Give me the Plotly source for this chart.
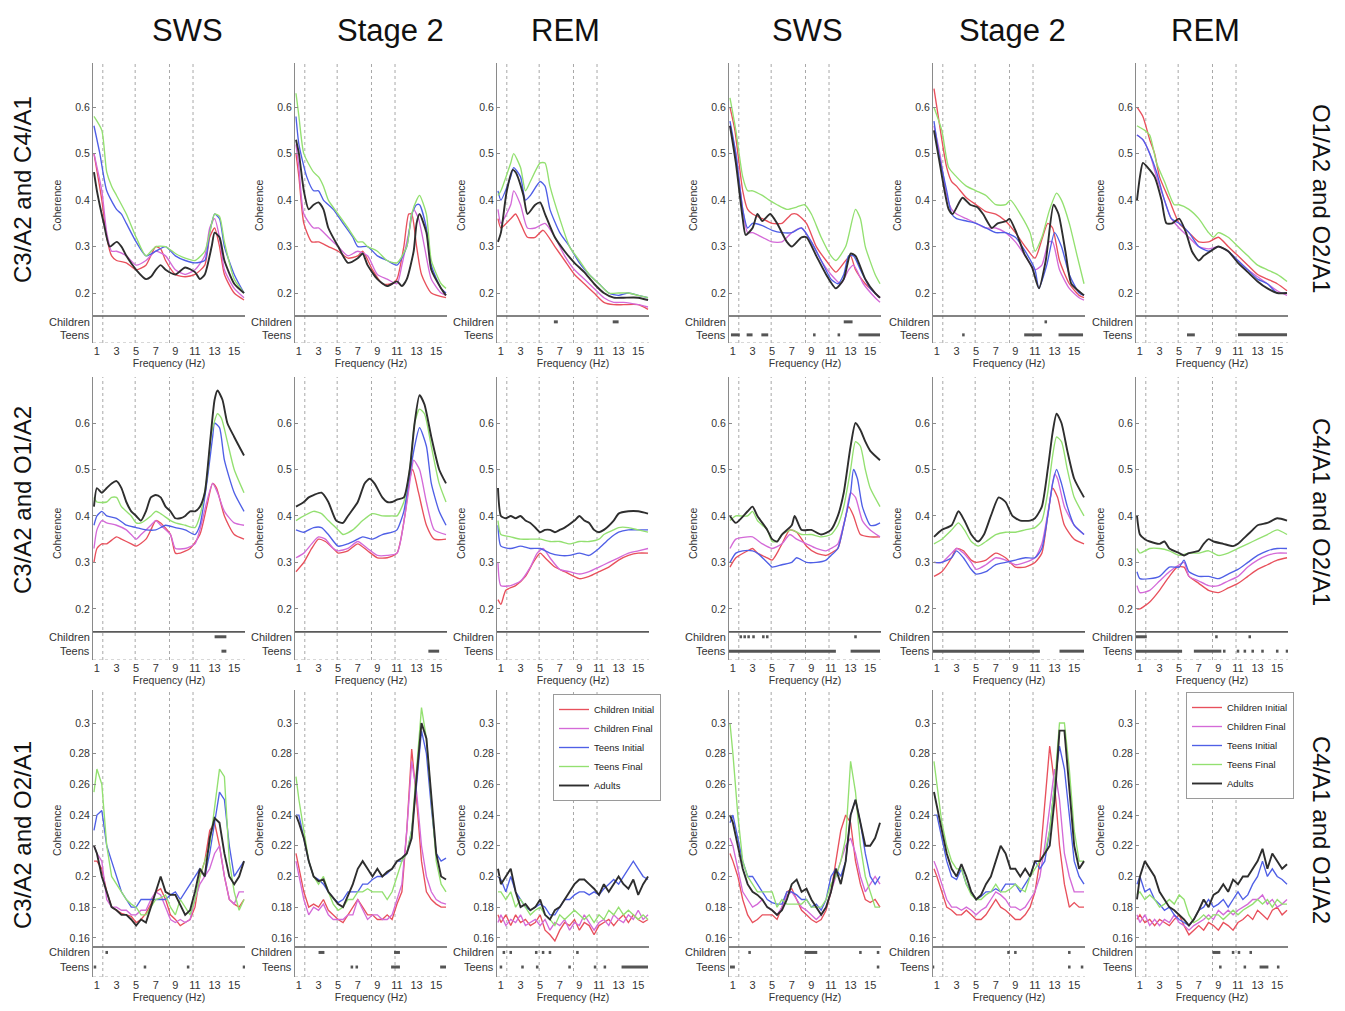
import plotly.graph_objects as go

W, H = 1345, 1011

GROUPS = ["Children Initial", "Children Final", "Teens Initial", "Teens Final", "Adults"]
KEYS = ["ci", "cf", "ti", "tf", "ad"]
COLORS = ["#e8505c", "#d46ad8", "#4f5fe6", "#93e070", "#2e2e2e"]
WIDTHS = [1.35, 1.35, 1.35, 1.35, 1.9]

STAGES = ["SWS", "Stage 2", "REM", "SWS", "Stage 2", "REM"]
ROW_LABELS_LEFT = ["C3/A2 and C4/A1", "C3/A2 and O1/A2", "C3/A2 and O2/A1"]
ROW_LABELS_RIGHT = ["O1/A2 and O2/A1", "C4/A1 and O2/A1", "C4/A1 and O1/A2"]

FREQ_TICKS = [1, 3, 5, 7, 9, 11, 13, 15]
BAND_LINES = [1.6, 4.9, 8.4, 10.8]
YTICKS_TOP = [0.2, 0.3, 0.4, 0.5, 0.6]
YTICKS_BOT = [0.16, 0.18, 0.2, 0.22, 0.24, 0.26, 0.28, 0.3]
FREQ3 = [0.7, 1.0, 1.5, 2.0, 2.5, 3.0, 3.5, 4.0, 4.5, 5.0, 5.5, 6.0, 6.5, 7.0, 7.5, 8.0,
         8.5, 9.0, 9.5, 10.0, 10.5, 11.0, 11.5, 12.0, 12.5, 13.0, 13.5, 14.0, 14.5, 15.0, 15.5, 16.0]

# ---------------- Row 1 : C3/A2-C4/A1 (left) and O1/A2-O2/A1 (right) ----------------
C3C4_SWS = dict(
    ci=[(0.7,.50),(1.5,.40),(2,.32),(2.5,.28),(3,.27),(4,.265),(5,.25),(6,.26),(7,.30),(7.5,.295),(8,.27),(9,.24),(10,.235),(11,.24),(12,.26),(12.5,.32),(13,.34),(13.5,.30),(14,.24),(15,.20),(16,.185)],
    cf=[(0.7,.50),(1.5,.42),(2,.33),(2.5,.29),(3,.29),(4,.28),(5,.26),(6,.27),(7,.29),(8,.28),(9,.25),(10,.24),(11,.25),(12,.28),(12.5,.34),(13,.36),(13.5,.32),(14,.25),(15,.21),(16,.19)],
    ti=[(0.7,.56),(1.3,.50),(2,.42),(3,.38),(3.5,.37),(4,.35),(5,.31),(6,.28),(7,.29),(8,.30),(9,.28),(10,.27),(11,.265),(12,.27),(12.5,.33),(13,.37),(13.5,.36),(14,.30),(15,.24),(16,.20)],
    tf=[(0.7,.58),(1.5,.55),(2,.46),(2.5,.43),(3,.41),(4,.37),(5,.32),(6,.28),(7,.30),(8,.30),(9,.285),(10,.275),(11,.27),(12,.29),(12.5,.33),(13,.37),(13.5,.365),(14,.31),(15,.23),(16,.20)],
    ad=[(0.7,.46),(1,.42),(1.7,.35),(2.3,.30),(3,.31),(3.5,.30),(4,.28),(5,.25),(6,.23),(6.5,.235),(7,.25),(7.5,.26),(8,.25),(9,.24),(10,.255),(11,.245),(11.5,.23),(12,.24),(12.7,.30),(13,.33),(13.5,.32),(14,.27),(15,.22),(16,.20)],
)
C3C4_S2 = dict(
    ci=[(0.7,.50),(1,.45),(1.5,.35),(2.3,.31),(3,.31),(4,.30),(5,.29),(6,.275),(7,.28),(7.5,.29),(8.5,.25),(9.5,.22),(10.5,.22),(11,.23),(11.7,.30),(12.2,.37),(12.5,.37),(13,.30),(13.5,.24),(14.5,.20),(16,.19)],
    cf=[(0.7,.52),(1,.47),(1.5,.37),(2.5,.34),(3,.34),(4,.32),(5,.30),(6,.28),(7,.29),(8,.28),(9,.24),(10,.23),(11,.22),(11.5,.26),(12.3,.34),(12.7,.38),(13.2,.36),(13.8,.30),(14.5,.23),(15.5,.20),(16,.195)],
    ti=[(0.7,.58),(1,.52),(1.8,.45),(2.5,.42),(3,.42),(3.5,.40),(4.5,.38),(5.5,.35),(6.5,.32),(7,.30),(8,.30),(9,.28),(10,.27),(11,.26),(12,.30),(12.5,.37),(13,.39),(13.3,.39),(14,.34),(14.5,.26),(15.5,.21),(16,.20)],
    tf=[(0.7,.63),(1,.58),(1.5,.50),(2.5,.46),(3,.45),(3.5,.43),(4,.40),(5,.37),(6,.34),(7,.31),(7.5,.31),(8,.30),(9,.29),(10,.27),(11,.265),(12,.30),(12.5,.37),(13,.40),(13.3,.41),(14,.37),(14.5,.27),(15.5,.22),(16,.21)],
    ad=[(0.7,.53),(1,.50),(1.5,.42),(2,.38),(2.5,.39),(3,.395),(3.5,.38),(4,.34),(5,.30),(6,.265),(7,.275),(7.5,.285),(8,.26),(9,.23),(10,.215),(11,.225),(11.5,.215),(12,.23),(12.7,.29),(13,.35),(13.3,.37),(14,.33),(14.5,.25),(15.5,.21),(16,.195)],
)
C3C4_REM = dict(
    ci=[(0.7,.36),(1,.34),(2,.36),(2.5,.37),(3,.35),(3.7,.32),(4.5,.32),(5.3,.335),(6.5,.30),(7.5,.27),(8.5,.24),(9.5,.22),(10.5,.20),(11.5,.18),(12.5,.175),(13.5,.175),(15,.175),(16,.165)],
    cf=[(0.7,.38),(1,.35),(2,.39),(2.3,.42),(3,.39),(3.7,.34),(4.5,.34),(5.5,.35),(6.5,.32),(7.5,.28),(8.5,.25),(9.5,.23),(10.5,.21),(11.5,.19),(12.5,.18),(13.5,.18),(15,.175),(16,.17)],
    ti=[(0.7,.42),(1,.40),(2,.45),(2.3,.47),(3,.45),(3.5,.40),(4,.41),(5,.44),(5.5,.43),(6,.38),(7,.33),(8,.30),(9,.265),(10,.24),(11,.22),(12,.20),(13,.195),(14,.20),(15,.195),(16,.19)],
    tf=[(0.7,.41),(1,.42),(2,.48),(2.3,.50),(3,.47),(3.5,.42),(4,.44),(5,.48),(5.5,.48),(6,.43),(7,.36),(8,.30),(9,.27),(10,.24),(11,.22),(12,.20),(13,.20),(14,.20),(15,.195),(16,.19)],
    ad=[(0.7,.31),(1,.33),(1.6,.42),(2.2,.465),(2.5,.46),(3.3,.41),(3.7,.37),(4.5,.39),(5,.395),(5.5,.37),(6.5,.32),(7.5,.29),(8.5,.265),(9.5,.245),(10.5,.22),(11.5,.20),(12.5,.19),(13.5,.19),(15,.19),(16,.185)],
)
O1O2_SWS = dict(
    ci=[(0.7,.60),(1.2,.55),(2,.42),(2.5,.38),(3,.37),(4,.36),(5,.35),(6,.35),(7,.37),(7.5,.37),(8.5,.35),(9.5,.30),(10.5,.27),(11.5,.245),(12.5,.27),(13,.28),(13.5,.25),(14.5,.22),(15.5,.20),(16,.19)],
    cf=[(0.7,.56),(1.3,.50),(2,.38),(2.5,.33),(3,.33),(4,.32),(5,.31),(6,.31),(7,.33),(8,.34),(9,.31),(10,.27),(11,.24),(12,.22),(12.8,.25),(13.3,.26),(14.3,.22),(15.5,.19),(16,.18)],
    ti=[(0.7,.57),(1.3,.50),(2,.38),(2.5,.34),(3,.35),(4,.345),(5,.335),(6,.33),(7,.33),(8,.34),(9,.31),(10,.27),(11,.23),(11.7,.22),(12.3,.24),(12.8,.28),(13.3,.28),(14,.25),(15,.21),(16,.19)],
    tf=[(0.7,.62),(1.3,.55),(2,.45),(2.5,.42),(3,.42),(4,.41),(4.7,.40),(5.5,.39),(6.5,.38),(7.5,.385),(8.3,.39),(9,.37),(10,.32),(11,.28),(11.5,.27),(12.5,.30),(13.5,.38),(14,.36),(14.5,.30),(15.5,.24),(16,.22)],
    ad=[(0.7,.56),(1.3,.48),(2,.36),(2.3,.325),(3,.34),(3.5,.37),(4,.355),(4.8,.37),(5.5,.35),(6.5,.31),(7,.30),(8,.32),(8.5,.32),(9.5,.28),(10.5,.24),(11.5,.21),(12.3,.23),(13,.285),(13.5,.28),(14.5,.23),(15.5,.20),(16,.19)],
)
O1O2_S2 = dict(
    ci=[(0.7,.64),(1.5,.53),(2,.47),(2.5,.44),(3,.43),(4,.405),(5,.39),(6,.375),(7,.37),(8,.355),(9,.33),(10,.30),(11,.275),(11.7,.315),(12.3,.35),(12.8,.34),(13.5,.27),(14.5,.22),(15.5,.195),(16,.19)],
    cf=[(0.7,.56),(1.3,.50),(2,.41),(2.5,.38),(3,.37),(4,.36),(5,.35),(6,.34),(7,.34),(8,.33),(9,.31),(10,.28),(11,.25),(11.7,.26),(12.4,.31),(12.8,.31),(13.5,.25),(14.5,.21),(15.5,.19),(16,.185)],
    ti=[(0.7,.57),(1.2,.50),(2,.42),(2.5,.37),(3,.36),(4,.355),(5,.35),(6,.34),(7,.33),(8,.33),(9,.32),(10,.29),(11,.25),(11.4,.21),(12.2,.26),(13,.33),(13.7,.30),(14.5,.24),(15.5,.20),(16,.195)],
    tf=[(0.7,.60),(1.5,.55),(2.2,.47),(3,.45),(4,.43),(5,.42),(6,.41),(7,.39),(8,.39),(8.5,.40),(9.5,.37),(10.5,.33),(11,.29),(11.7,.32),(12.5,.38),(13.2,.415),(13.7,.40),(14.5,.35),(15.3,.28),(16,.22)],
    ad=[(0.7,.55),(1.2,.49),(2.2,.38),(2.6,.37),(3.6,.405),(4.4,.39),(5.1,.385),(5.7,.37),(6.6,.34),(7.2,.35),(8.1,.355),(8.4,.36),(9.1,.33),(9.9,.285),(10.7,.255),(11.4,.21),(12.1,.27),(12.9,.39),(13.4,.37),(14.1,.29),(14.7,.22),(15.7,.20),(16,.195)],
)
O1O2_REM = dict(
    ci=[(0.7,.60),(1.3,.58),(2,.53),(2.5,.50),(3,.45),(4,.40),(5,.35),(6,.33),(7,.31),(8,.31),(9,.32),(10,.30),(11,.28),(12,.26),(13,.24),(14,.23),(15,.22),(16,.205)],
    cf=[(0.7,.54),(1.3,.53),(2,.50),(2.7,.45),(3.5,.40),(4.2,.36),(5,.34),(6,.32),(7,.30),(8,.295),(9,.30),(10,.29),(11,.27),(12,.25),(13,.235),(14,.22),(15,.205),(16,.195)],
    ti=[(0.7,.54),(1.3,.53),(2,.50),(2.7,.46),(3.5,.40),(4.2,.36),(5,.35),(6,.33),(7,.30),(8,.29),(9,.30),(10,.29),(11,.27),(12,.25),(13,.23),(14,.22),(15,.20),(16,.20)],
    tf=[(0.7,.56),(1.5,.55),(2,.54),(2.7,.48),(3.5,.44),(4.5,.39),(5,.39),(6,.38),(7,.36),(8,.33),(8.5,.32),(9,.33),(10,.32),(11,.30),(12,.28),(13,.26),(14,.25),(15,.24),(16,.225)],
    ad=[(0.7,.40),(1,.45),(1.3,.48),(1.8,.47),(2.5,.45),(3.2,.40),(3.7,.35),(4.3,.35),(5,.36),(5.7,.33),(6.3,.29),(7,.27),(7.5,.28),(8.2,.29),(9,.30),(10,.29),(11,.265),(12,.245),(13,.225),(14,.21),(15,.20),(16,.20)],
)

# ---------------- Row 2 : C3/A2-O1/A2 (left) and C4/A1-O2/A1 (right) ----------------
C3O1_SWS = dict(
    ci=[(0.7,.30),(1,.33),(1.5,.34),(2,.34),(3,.355),(3.5,.35),(4.5,.34),(5,.335),(6,.35),(6.5,.37),(7,.39),(7.5,.385),(8.5,.36),(9,.32),(9.5,.32),(10.5,.33),(11.5,.36),(12.2,.42),(12.8,.47),(13.2,.46),(14,.40),(15,.36),(16,.35)],
    cf=[(0.7,.33),(1,.37),(1.5,.39),(2,.385),(3,.38),(4,.37),(4.5,.36),(5,.35),(5.5,.36),(6.5,.38),(7,.39),(7.5,.38),(8.5,.36),(9,.33),(10,.33),(11,.34),(11.5,.37),(12.2,.43),(12.8,.47),(13.3,.45),(14,.41),(15,.385),(16,.38)],
    ti=[(0.7,.38),(1,.40),(1.5,.41),(2,.40),(3,.395),(4,.38),(5,.375),(6,.37),(7,.37),(8,.38),(9,.375),(10,.37),(11,.36),(11.5,.38),(12.2,.47),(12.8,.57),(13,.60),(13.5,.59),(14,.52),(15,.45),(16,.41)],
    tf=[(0.7,.44),(1,.43),(2,.43),(2.5,.44),(3,.44),(3.5,.42),(4.5,.40),(5,.385),(5.5,.385),(6.5,.40),(7,.41),(7.5,.405),(8.5,.39),(9,.385),(10,.38),(11,.375),(11.5,.40),(12.2,.48),(12.7,.58),(13.3,.62),(13.7,.61),(14.3,.56),(15,.50),(16,.45)],
    ad=[(0.7,.42),(1,.46),(1.5,.45),(2,.46),(2.5,.47),(3,.475),(3.5,.46),(4,.43),(4.5,.41),(5,.40),(5.5,.39),(6,.41),(6.5,.44),(7,.445),(7.5,.44),(8,.42),(8.5,.41),(9,.395),(9.5,.395),(10,.40),(10.5,.41),(11,.41),(11.5,.42),(12,.45),(12.5,.55),(13,.65),(13.3,.67),(13.8,.65),(14.3,.60),(15,.57),(16,.53)],
)
C3O1_S2 = dict(
    ci=[(0.7,.28),(1.5,.30),(2.3,.33),(3,.35),(3.7,.345),(4.5,.33),(5,.32),(6,.325),(7,.34),(8,.325),(9,.31),(10,.31),(11,.32),(11.8,.40),(12.3,.48),(12.6,.50),(13.2,.45),(14,.38),(14.8,.35),(16,.35)],
    cf=[(0.7,.31),(1.5,.32),(2.3,.34),(3,.355),(3.7,.35),(4.5,.33),(5,.325),(6,.33),(7,.345),(8,.33),(9,.315),(10,.315),(11,.32),(11.8,.40),(12.5,.50),(12.7,.52),(13.3,.50),(14,.43),(14.8,.37),(16,.36)],
    ti=[(0.7,.37),(1.5,.365),(2.5,.375),(3.3,.375),(4,.36),(5,.335),(6,.34),(7,.35),(7.5,.355),(8.5,.35),(9.5,.36),(10.5,.365),(11,.37),(11.7,.41),(12.3,.49),(12.8,.55),(13.3,.59),(14,.55),(14.5,.47),(15.3,.41),(16,.38)],
    tf=[(0.7,.39),(1.5,.40),(2.5,.41),(3.3,.405),(4,.39),(5,.37),(5.5,.36),(6.5,.37),(7.5,.39),(8.5,.405),(9.5,.40),(10.5,.40),(11,.40),(11.7,.43),(12.3,.50),(12.8,.60),(13.3,.63),(13.8,.62),(14.5,.55),(15.3,.47),(16,.43)],
    ad=[(0.7,.42),(1.5,.43),(2,.44),(2.5,.445),(3.3,.45),(4,.43),(4.8,.39),(5.5,.385),(6,.40),(7,.43),(7.7,.47),(8.2,.48),(8.7,.47),(9.5,.44),(10,.43),(10.5,.43),(11,.435),(11.7,.44),(12.3,.50),(12.8,.60),(13.3,.66),(13.8,.64),(14.5,.57),(15.3,.50),(16,.47)],
)
C3O1_REM = dict(
    ci=[(0.7,.22),(1,.21),(1.5,.24),(2.5,.25),(3.5,.27),(4.3,.30),(5,.32),(5.5,.31),(6.5,.29),(7.5,.28),(9,.265),(10,.27),(11,.28),(12,.29),(13,.305),(14,.315),(15,.32),(16,.32)],
    cf=[(0.7,.30),(1,.25),(2,.25),(3,.26),(4,.29),(4.7,.32),(5.3,.33),(6,.31),(7,.285),(8,.28),(9,.275),(10,.28),(11,.29),(12,.30),(13,.31),(14,.32),(15,.325),(16,.33)],
    ti=[(0.7,.38),(1,.335),(2,.33),(3,.335),(4,.33),(5,.33),(6,.32),(7,.315),(8,.315),(9,.32),(10,.315),(11,.33),(12,.35),(13,.365),(14,.37),(15,.37),(16,.37)],
    tf=[(0.7,.39),(1,.36),(2,.355),(3,.35),(4,.35),(5,.35),(6,.345),(7,.345),(8,.34),(9,.345),(10,.345),(11,.35),(11.5,.36),(12.5,.37),(13,.375),(14,.375),(15,.37),(16,.365)],
    ad=[(0.7,.46),(1,.40),(1.5,.395),(2,.40),(2.5,.395),(3,.40),(3.5,.39),(4,.385),(4.5,.375),(5,.365),(5.5,.37),(6,.37),(6.5,.365),(7,.37),(7.5,.375),(8.5,.39),(9,.40),(9.5,.39),(10,.385),(10.5,.37),(11,.365),(11.5,.37),(12.5,.39),(13,.405),(14,.41),(15,.41),(16,.405)],
)
C4O2_SWS = dict(
    ci=[(0.7,.29),(1.3,.31),(2.5,.325),(3,.33),(3.5,.32),(4.5,.31),(5,.305),(5.5,.32),(6,.34),(6.8,.37),(7.5,.365),(8.5,.335),(9.5,.32),(10.5,.315),(11,.32),(11.7,.33),(12.3,.38),(12.8,.42),(13.3,.40),(14,.36),(15,.355),(16,.355)],
    cf=[(0.7,.33),(1.3,.35),(2.5,.355),(3,.355),(4,.34),(5,.33),(6,.34),(6.8,.36),(7.5,.35),(8.5,.34),(9.5,.33),(10.5,.325),(11,.33),(11.7,.34),(12.5,.40),(13,.45),(13.5,.44),(14.2,.39),(15,.37),(16,.355)],
    ti=[(0.7,.30),(1.3,.32),(2,.325),(3,.325),(3.5,.32),(4.5,.30),(5,.29),(6,.295),(7,.30),(7.5,.31),(8.5,.30),(9.5,.30),(10.5,.305),(11,.315),(11.7,.33),(12.3,.38),(13,.45),(13.3,.50),(13.7,.48),(14.2,.42),(15,.38),(15.5,.38),(16,.385)],
    tf=[(0.7,.39),(1.3,.40),(2.5,.40),(3,.41),(3.5,.39),(4.5,.37),(5,.345),(5.5,.345),(6,.36),(7,.37),(8,.36),(9,.36),(10,.355),(11,.36),(11.7,.38),(12.3,.42),(13,.50),(13.5,.56),(14,.55),(14.5,.50),(15,.46),(16,.42)],
    ad=[(0.7,.40),(1.3,.385),(2.5,.41),(3,.42),(3.5,.40),(4.5,.37),(5,.35),(5.5,.345),(6,.36),(7,.38),(7.3,.40),(8,.37),(9,.37),(10,.36),(11,.37),(11.7,.40),(12.3,.45),(13,.55),(13.5,.60),(14,.585),(14.5,.56),(15,.54),(16,.52)],
)
C4O2_S2 = dict(
    ci=[(0.7,.27),(1.5,.28),(2.5,.31),(3,.33),(3.7,.325),(4.5,.305),(5,.30),(6,.305),(7,.32),(8,.31),(9,.29),(10,.29),(11,.30),(11.7,.32),(12.3,.40),(12.8,.46),(13.3,.44),(14,.38),(15,.35),(16,.34)],
    cf=[(0.7,.30),(1.5,.30),(2.5,.32),(3,.33),(3.7,.32),(4.5,.30),(5,.285),(6,.295),(7,.31),(8,.305),(9,.295),(10,.30),(11,.31),(11.7,.34),(12.5,.43),(13,.49),(13.3,.48),(14,.42),(15,.38),(16,.36)],
    ti=[(0.7,.30),(1.5,.30),(2.5,.31),(3,.325),(3.7,.31),(4.5,.285),(5,.275),(6,.28),(7,.295),(8,.30),(9,.305),(10,.31),(11,.31),(11.7,.33),(12.3,.40),(12.8,.47),(13.2,.50),(13.7,.47),(14.3,.42),(15,.38),(16,.36)],
    tf=[(0.7,.34),(1.5,.35),(2.5,.37),(3.2,.385),(3.8,.37),(4.5,.345),(5.2,.335),(6,.345),(7,.36),(8,.365),(9,.365),(10,.37),(11,.375),(11.7,.39),(12.3,.45),(12.8,.53),(13.2,.57),(13.7,.56),(14.3,.50),(15,.44),(16,.40)],
    ad=[(0.7,.355),(1.5,.37),(2.5,.38),(3.2,.41),(3.8,.39),(4.5,.36),(5.2,.345),(5.8,.36),(6.5,.40),(7.3,.44),(8,.43),(8.7,.40),(9.5,.39),(10.5,.39),(11,.395),(11.7,.42),(12.3,.50),(12.8,.58),(13.2,.62),(13.7,.60),(14.3,.54),(15,.48),(16,.44)],
)
C4O2_REM = dict(
    ci=[(0.7,.20),(1,.20),(2,.215),(3,.24),(4,.27),(4.8,.29),(5.5,.29),(6,.27),(7,.255),(8,.24),(9,.235),(10,.245),(11,.255),(12,.27),(13,.285),(14,.295),(15,.305),(16,.31)],
    cf=[(0.7,.25),(1,.235),(2,.24),(3,.26),(4,.28),(5,.295),(5.5,.30),(6,.27),(7,.26),(8,.25),(9,.25),(10,.26),(11,.27),(12,.29),(13,.305),(14,.315),(15,.32),(16,.32)],
    ti=[(0.7,.28),(1,.265),(2,.265),(3,.27),(4,.29),(5,.29),(5.5,.305),(6,.28),(7,.27),(8,.27),(9,.265),(10,.275),(11,.285),(12,.30),(13,.315),(14,.325),(15,.33),(16,.33)],
    tf=[(0.7,.33),(1,.32),(2,.33),(3,.33),(4,.325),(5,.315),(6,.32),(7,.32),(8,.325),(9,.315),(10,.32),(11,.33),(12,.34),(13,.35),(14,.36),(15,.37),(16,.36)],
    ad=[(0.7,.40),(1,.36),(1.5,.35),(2,.345),(3,.34),(3.5,.345),(4,.33),(5,.32),(5.5,.315),(6,.32),(7,.325),(7.5,.34),(8,.35),(8.5,.345),(9.5,.34),(10.5,.335),(11,.34),(11.5,.35),(12,.36),(12.5,.37),(13,.38),(14,.385),(15,.395),(16,.39)],
)

# ---------------- Row 3 : C3/A2-O2/A1 (left) and C4/A1-O1/A2 (right), values on FREQ3 ----------------
C3O2_SWS = dict(
    ci=[.21,.21,.205,.19,.18,.178,.176,.175,.174,.17,.172,.176,.182,.19,.192,.185,.175,.172,.168,.17,.172,.18,.20,.21,.23,.235,.22,.20,.185,.182,.18,.185],
    cf=[.22,.215,.21,.185,.18,.18,.178,.178,.175,.175,.178,.178,.185,.19,.188,.18,.172,.17,.172,.17,.172,.185,.195,.20,.205,.215,.22,.20,.185,.182,.19,.19],
    ti=[.23,.24,.243,.22,.21,.20,.19,.185,.18,.18,.185,.185,.185,.185,.185,.185,.188,.19,.185,.19,.195,.20,.205,.20,.215,.235,.255,.25,.22,.20,.205,.21],
    tf=[.255,.27,.26,.22,.20,.195,.19,.185,.182,.18,.175,.175,.18,.185,.186,.188,.18,.175,.185,.18,.175,.185,.20,.21,.22,.245,.27,.265,.21,.19,.178,.185],
    ad=[.22,.215,.20,.19,.18,.178,.175,.175,.172,.168,.172,.17,.18,.19,.20,.19,.188,.188,.182,.175,.178,.19,.205,.20,.225,.238,.235,.215,.20,.195,.20,.21],
)
C3O2_S2 = dict(
    ci=[.215,.205,.19,.18,.182,.18,.185,.178,.175,.172,.17,.175,.18,.185,.18,.175,.175,.172,.172,.175,.172,.182,.19,.23,.283,.25,.21,.19,.185,.182,.18,.18],
    cf=[.21,.20,.185,.175,.18,.178,.182,.175,.172,.172,.172,.175,.175,.185,.178,.172,.175,.175,.172,.172,.175,.185,.195,.23,.275,.255,.22,.20,.19,.185,.183,.182],
    ti=[.24,.24,.225,.21,.20,.198,.195,.19,.186,.183,.185,.19,.19,.19,.195,.195,.198,.20,.20,.202,.205,.21,.21,.215,.23,.26,.295,.28,.245,.215,.21,.212],
    tf=[.265,.25,.23,.21,.20,.195,.20,.19,.182,.178,.18,.185,.185,.19,.19,.192,.19,.19,.19,.185,.19,.20,.21,.215,.23,.27,.31,.29,.25,.21,.195,.19],
    ad=[.24,.235,.225,.21,.20,.197,.198,.19,.186,.182,.18,.188,.195,.205,.21,.205,.20,.205,.20,.203,.205,.21,.212,.215,.225,.265,.30,.29,.25,.215,.20,.198],
)
C3O2_REM = dict(
    ci=[.175,.17,.175,.168,.175,.17,.172,.168,.17,.175,.165,.162,.158,.165,.17,.168,.172,.165,.17,.168,.162,.168,.17,.172,.168,.172,.175,.17,.175,.172,.17,.172],
    cf=[.17,.175,.168,.172,.17,.175,.168,.17,.172,.168,.172,.165,.17,.168,.172,.165,.17,.168,.175,.17,.165,.17,.172,.168,.175,.172,.17,.175,.172,.178,.172,.175],
    ti=[.20,.198,.19,.20,.19,.185,.18,.178,.18,.182,.18,.175,.175,.18,.185,.185,.188,.19,.19,.188,.19,.188,.192,.195,.198,.195,.20,.205,.21,.205,.20,.198],
    tf=[.19,.19,.185,.19,.18,.185,.18,.175,.178,.18,.175,.172,.168,.175,.172,.175,.178,.175,.172,.175,.17,.175,.172,.178,.175,.18,.175,.178,.175,.172,.175,.172],
    ad=[.205,.195,.20,.205,.19,.18,.182,.178,.18,.185,.175,.172,.178,.18,.185,.19,.195,.198,.198,.195,.192,.188,.195,.19,.195,.20,.195,.192,.198,.188,.195,.20],
)
C4O1_SWS = dict(
    ci=[.215,.21,.20,.185,.175,.17,.172,.175,.175,.175,.172,.18,.19,.192,.185,.178,.175,.172,.17,.172,.178,.19,.21,.23,.24,.235,.21,.195,.185,.183,.185,.18],
    cf=[.225,.22,.205,.19,.185,.18,.182,.185,.18,.178,.175,.18,.188,.19,.185,.18,.178,.175,.172,.175,.18,.19,.20,.21,.22,.225,.215,.20,.19,.195,.20,.195],
    ti=[.235,.24,.225,.21,.20,.20,.195,.19,.185,.183,.182,.182,.19,.19,.188,.185,.185,.18,.182,.178,.185,.20,.205,.20,.21,.24,.25,.235,.215,.20,.195,.20],
    tf=[.30,.28,.24,.21,.20,.195,.19,.19,.19,.19,.18,.185,.182,.182,.182,.182,.185,.18,.18,.18,.185,.195,.20,.21,.225,.275,.255,.22,.20,.19,.18,.18],
    ad=[.24,.235,.22,.205,.195,.19,.188,.185,.18,.178,.175,.178,.185,.195,.198,.19,.192,.185,.18,.175,.18,.19,.205,.195,.21,.24,.25,.235,.22,.22,.225,.235],
)
C4O1_S2 = dict(
    ci=[.205,.20,.19,.18,.178,.175,.175,.178,.175,.172,.172,.175,.18,.185,.18,.178,.175,.172,.172,.175,.18,.19,.21,.25,.285,.26,.22,.195,.18,.183,.18,.18],
    cf=[.21,.205,.195,.185,.18,.18,.178,.18,.178,.175,.178,.18,.185,.19,.188,.185,.18,.18,.178,.18,.185,.19,.20,.22,.245,.27,.25,.215,.20,.19,.19,.19],
    ti=[.24,.24,.225,.21,.20,.198,.205,.195,.19,.185,.187,.19,.19,.192,.19,.195,.195,.195,.19,.195,.20,.21,.205,.21,.23,.26,.285,.27,.24,.21,.20,.195],
    tf=[.275,.26,.235,.22,.21,.205,.205,.195,.188,.185,.185,.188,.19,.195,.19,.19,.192,.195,.192,.19,.20,.205,.21,.215,.23,.26,.30,.30,.27,.23,.21,.21],
    ad=[.255,.245,.23,.215,.205,.20,.208,.20,.19,.185,.188,.195,.20,.21,.22,.215,.205,.205,.20,.205,.20,.21,.21,.215,.22,.25,.295,.295,.26,.22,.205,.21],
)
C4O1_REM = dict(
    ci=[.172,.175,.17,.172,.168,.172,.17,.168,.172,.175,.168,.162,.165,.168,.165,.17,.168,.165,.17,.168,.165,.17,.172,.175,.172,.178,.175,.172,.178,.18,.175,.178],
    cf=[.175,.17,.175,.168,.172,.168,.172,.17,.175,.17,.168,.165,.168,.17,.172,.175,.172,.178,.175,.178,.175,.178,.18,.182,.185,.185,.188,.182,.185,.18,.182,.185],
    ti=[.195,.20,.19,.192,.185,.182,.178,.18,.175,.172,.17,.168,.172,.178,.18,.185,.18,.182,.185,.18,.185,.19,.185,.188,.195,.20,.21,.20,.205,.20,.198,.195],
    tf=[.188,.19,.185,.188,.185,.18,.182,.185,.182,.188,.185,.175,.17,.172,.175,.172,.175,.175,.172,.175,.178,.175,.178,.18,.182,.185,.182,.185,.18,.185,.182,.182],
    ad=[.185,.20,.21,.205,.20,.19,.185,.18,.178,.175,.172,.168,.172,.178,.185,.18,.188,.19,.195,.19,.198,.195,.20,.20,.205,.21,.218,.205,.215,.21,.205,.208],
)

# ---------------- significance markers (frequency intervals; equal ends = single bin) ----------------
SIG_C3C4_SWS = dict(children=[], teens=[])
SIG_C3C4_S2 = dict(children=[], teens=[])
SIG_C3C4_REM = dict(children=[(6.4, 6.8), (12.4, 13.0)], teens=[])
SIG_O1O2_SWS = dict(children=[(12.3, 13.2)], teens=[(0.8, 1.7), (2.4, 3.0), (3.9, 4.6), (9.3, 9.3), (11.8, 11.8), (13.8, 16.0)])
SIG_O1O2_S2 = dict(children=[(12.1, 12.1)], teens=[(3.7, 3.7), (9.9, 11.7), (13.4, 15.9)])
SIG_O1O2_REM = dict(children=[], teens=[(5.8, 6.6), (11.0, 16.0)])
SIG_C3O1_SWS = dict(children=[(13.0, 14.2)], teens=[(13.7, 14.2)])
SIG_C3O1_S2 = dict(children=[], teens=[(14.2, 15.3)])
SIG_C3O1_REM = dict(children=[], teens=[])
SIG_C4O2_SWS = dict(children=[(1.8, 1.8), (2.2, 2.2), (2.6, 2.6), (3.1, 3.1), (4.1, 4.1), (4.5, 4.5), (13.5, 13.5)],
                    teens=[(0.6, 11.5), (13.0, 16.0)])
SIG_C4O2_S2 = dict(children=[], teens=[(0.6, 11.5), (13.5, 16.0)])
SIG_C4O2_REM = dict(children=[(0.6, 1.7), (8.8, 8.8), (12.2, 12.2)],
                    teens=[(0.6, 5.3), (6.5, 9.3), (9.6, 9.6), (11.0, 11.0), (11.7, 11.7), (12.5, 12.5), (13.5, 13.5), (15.0, 15.0), (16.0, 16.0)])
SIG_C3O2_SWS = dict(children=[(2.0, 2.0)], teens=[(0.8, 0.8), (5.9, 5.9), (10.3, 10.3), (16.0, 16.0)])
SIG_C3O2_S2 = dict(children=[(3.0, 3.6), (10.7, 11.3)], teens=[(6.4, 6.4), (6.9, 6.9), (10.4, 11.3), (15.4, 16.0)])
SIG_C3O2_REM = dict(children=[(1.3, 1.3), (2.0, 2.0), (4.6, 4.6), (5.3, 5.3), (6.0, 6.0), (8.8, 8.8)],
                    teens=[(1.0, 1.0), (3.2, 3.2), (4.7, 4.7), (8.0, 8.0), (10.6, 10.6), (11.6, 11.6), (13.3, 16.0)])
SIG_C4O1_SWS = dict(children=[(2.7, 2.7), (8.3, 9.6), (14.0, 14.0), (15.8, 15.8)], teens=[(0.7, 1.2), (15.8, 15.8)])
SIG_C4O1_S2 = dict(children=[(8.3, 8.3), (9.0, 9.0), (14.5, 14.5)], teens=[(0.6, 0.6), (14.5, 14.5), (15.8, 15.8)])
SIG_C4O1_REM = dict(children=[(8.4, 9.2), (10.5, 10.5), (11.1, 11.1), (12.3, 12.3)],
                    teens=[(9.2, 9.2), (11.7, 11.7), (13.2, 14.1), (15.1, 15.1)])

PANELS = [
    [C3C4_SWS, C3C4_S2, C3C4_REM, O1O2_SWS, O1O2_S2, O1O2_REM],
    [C3O1_SWS, C3O1_S2, C3O1_REM, C4O2_SWS, C4O2_S2, C4O2_REM],
    [C3O2_SWS, C3O2_S2, C3O2_REM, C4O1_SWS, C4O1_S2, C4O1_REM],
]
SIGS = [
    [SIG_C3C4_SWS, SIG_C3C4_S2, SIG_C3C4_REM, SIG_O1O2_SWS, SIG_O1O2_S2, SIG_O1O2_REM],
    [SIG_C3O1_SWS, SIG_C3O1_S2, SIG_C3O1_REM, SIG_C4O2_SWS, SIG_C4O2_S2, SIG_C4O2_REM],
    [SIG_C3O2_SWS, SIG_C3O2_S2, SIG_C3O2_REM, SIG_C4O1_SWS, SIG_C4O1_S2, SIG_C4O1_REM],
]

# ---------------- layout geometry (pixels) ----------------
COL_X = [93, 295, 497, 729, 933, 1136]
COL_W = 152
ROW_Y = [(63, 343), (377, 660), (690, 977)]
YRANGE = [(0.0925, 0.695), (0.09, 0.699), (0.1345, 0.3215)]
SEP_Y = [0.1505, 0.1505, 0.154]
LBL_Y = [(0.138, 0.11), (0.14, 0.109), (0.1505, 0.141)]
XRANGE = [0.6, 16.1]
FONT = "Liberation Sans, Arial, sans-serif"

fig = go.Figure()
layout = {}
shapes = []
annotations = []


def sig_xy(intervals, y):
    xs, ys = [], []
    for a, b in intervals:
        if a == b:
            a, b = a - 0.13, b + 0.13
        xs += [a, b, None]
        ys += [y, y, None]
    return xs, ys


for r in range(3):
    for c in range(6):
        idx = r * 6 + c + 1
        sfx = "" if idx == 1 else str(idx)
        xref, yref = "x" + sfx, "y" + sfx
        x0 = COL_X[c]
        x1 = x0 + COL_W
        top, bot = ROW_Y[r]
        y_lo, y_hi = YRANGE[r]
        yt = YTICKS_TOP if r < 2 else YTICKS_BOT
        layout["xaxis" + sfx] = dict(
            domain=[x0 / W, x1 / W], range=XRANGE, anchor=yref,
            tickvals=FREQ_TICKS, ticktext=[str(v) for v in FREQ_TICKS],
            showgrid=False, zeroline=False, showline=False, ticks="",
            tickfont=dict(size=11, color="#333", family=FONT),
            title=dict(text="Frequency (Hz)", font=dict(size=10.5, color="#333", family=FONT), standoff=1),
        )
        layout["yaxis" + sfx] = dict(
            domain=[1 - bot / H, 1 - top / H], range=[y_lo, y_hi], anchor=xref,
            tickvals=yt, ticktext=[("%g" % v) for v in yt],
            showgrid=False, zeroline=False, showline=True, linecolor="#8a8a8a", linewidth=1,
            ticks="inside", ticklen=3, tickcolor="#8a8a8a",
            tickfont=dict(size=10.5, color="#333", family=FONT),
        )
        for f in BAND_LINES:
            shapes.append(dict(type="line", xref=xref, yref=yref, x0=f, x1=f, y0=y_lo, y1=y_hi,
                               line=dict(color="#a8a8a8", width=1, dash="3px,3px"), layer="below"))
        shapes.append(dict(type="line", xref=xref, yref=yref, x0=XRANGE[0], x1=16.45, y0=SEP_Y[r], y1=SEP_Y[r],
                           line=dict(color="#5a5a5a", width=1.6)))
        shapes.append(dict(type="line", xref=xref, yref=yref, x0=XRANGE[0], x1=XRANGE[1], y0=y_lo, y1=y_lo,
                           line=dict(color="#b0b0b0", width=1, dash="dot")))

        data = PANELS[r][c]
        for k, key in enumerate(KEYS):
            s = data[key]
            if r < 2:
                xs = [p[0] for p in s]
                ys = [p[1] for p in s]
                shape = "spline"
            else:
                xs, ys = FREQ3, s
                shape = "linear"
            leg = None
            if (r, c) == (2, 2):
                leg = "legend"
            elif (r, c) == (2, 5):
                leg = "legend2"
            fig.add_trace(go.Scatter(
                x=xs, y=ys, mode="lines", name=GROUPS[k], xaxis=xref, yaxis=yref,
                line=dict(color=COLORS[k], width=WIDTHS[k], shape=shape, smoothing=0.6),
                showlegend=leg is not None, legend=leg if leg else "legend", hoverinfo="skip"))

        sig = SIGS[r][c]
        for which, yv in (("children", LBL_Y[r][0]), ("teens", LBL_Y[r][1])):
            xs, ys = sig_xy(sig[which], yv)
            if xs:
                fig.add_trace(go.Scatter(x=xs, y=ys, mode="lines", xaxis=xref, yaxis=yref,
                                         line=dict(color="#555", width=3), showlegend=False, hoverinfo="skip"))
        annotations.append(dict(text="Children", xref="paper", yref=yref, x=(x0 - 1) / W, y=LBL_Y[r][0],
                                xanchor="right", yanchor="middle", showarrow=False,
                                font=dict(size=11, color="#333", family=FONT)))
        annotations.append(dict(text="Teens", xref="paper", yref=yref, x=(x0 - 1) / W, y=LBL_Y[r][1],
                                xanchor="right", yanchor="middle", showarrow=False,
                                font=dict(size=11, color="#333", family=FONT)))
        ymid = [205, 533, 830][r]
        annotations.append(dict(text="Coherence", xref="paper", yref="paper", x=(x0 - 36) / W, y=1 - ymid / H,
                                textangle=-90, xanchor="center", yanchor="middle", showarrow=False,
                                font=dict(size=10.5, color="#333", family=FONT)))

TITLE_X = [188, 390, 565, 807, 1012, 1205]
for c, t in enumerate(STAGES):
    annotations.append(dict(text=t, xref="paper", yref="paper", x=TITLE_X[c] / W, y=1 - 30 / H,
                            xanchor="center", yanchor="middle", showarrow=False,
                            font=dict(size=31, color="#111", family=FONT)))
for r in range(3):
    annotations.append(dict(text=ROW_LABELS_LEFT[r], xref="paper", yref="paper", x=22 / W,
                            y=1 - [190, 500, 835][r] / H, textangle=-90, xanchor="center", yanchor="middle",
                            showarrow=False, font=dict(size=24, color="#111", family=FONT)))
    annotations.append(dict(text=ROW_LABELS_RIGHT[r], xref="paper", yref="paper", x=1322 / W,
                            y=1 - [198, 512, 830][r] / H, textangle=90, xanchor="center", yanchor="middle",
                            showarrow=False, font=dict(size=24, color="#111", family=FONT)))

legend_style = dict(bgcolor="white", bordercolor="#9a9a9a", borderwidth=1,
                    font=dict(size=9.5, color="#222", family=FONT), itemwidth=30,
                    tracegroupgap=0, xanchor="left", yanchor="top")
layout["legend"] = dict(x=553 / W, y=1 - 694 / H, **legend_style)
layout["legend2"] = dict(x=1186 / W, y=1 - 692 / H, **legend_style)

fig.update_layout(layout)
fig.update_layout(width=W, height=H, margin=dict(l=0, r=0, t=0, b=0),
                  plot_bgcolor="white", paper_bgcolor="white",
                  shapes=shapes, annotations=annotations, font=dict(family=FONT))

fig.write_html("out.html", config={"displayModeBar": False},
               post_script="document.body.style.margin='0';document.body.style.overflow='hidden';")
